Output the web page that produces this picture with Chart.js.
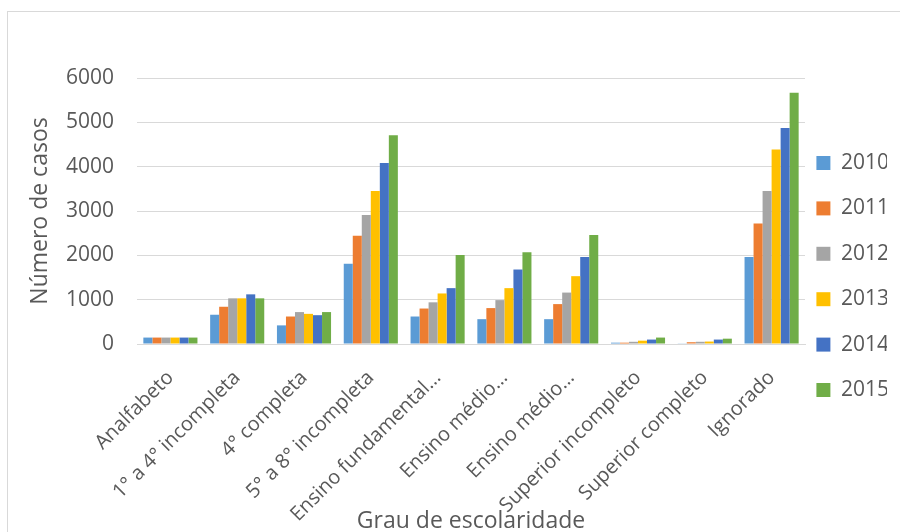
<!DOCTYPE html>
<html lang="pt">
<head>
<meta charset="utf-8">
<title>Casos por grau de escolaridade, 2010–2015</title>
<script src="https://cdn.jsdelivr.net/npm/chart.js@4/dist/chart.umd.min.js"></script>
<style>
  html, body { margin: 0; padding: 0; background: #ffffff; overflow: hidden; }
  #wrap { position: relative; width: 900px; height: 532px; }
  #frame {
    position: absolute; left: 7px; top: 11px; width: 1000px; height: 700px;
    border: 1px solid #d9d9d9; box-sizing: border-box;
  }
  #c { position: absolute; left: 0; top: 0; }
</style>
</head>
<body>
<div id="wrap">
  <div id="frame"></div>
  <canvas id="c" width="900" height="532"></canvas>
</div>
<script>
// Categorias (grau de escolaridade)
const categorias = [
  'Analfabeto',
  '1° a 4° incompleta',
  '4° completa',
  '5° a 8° incompleta',
  'Ensino fundamental…',
  'Ensino médio…',
  'Ensino médio…',
  'Superior incompleto',
  'Superior completo',
  'Ignorado'
];

// Número de casos por ano
const casos2010 = [145, 660, 420, 1810, 620, 560, 560, 30, 15, 1960];
const casos2011 = [145, 840, 620, 2440, 800, 810, 900, 30, 40, 2720];
const casos2012 = [145, 1030, 720, 2910, 940, 990, 1160, 50, 50, 3450];
const casos2013 = [145, 1030, 680, 3450, 1140, 1260, 1530, 75, 55, 4390];
const casos2014 = [145, 1120, 650, 4080, 1260, 1680, 1960, 100, 100, 4870];
const casos2015 = [145, 1030, 720, 4710, 2010, 2070, 2460, 145, 120, 5670];

const anos = ['2010', '2011', '2012', '2013', '2014', '2015'];
const series = [casos2010, casos2011, casos2012, casos2013, casos2014, casos2015];
const cores = ['#5b9bd5', '#ed7d31', '#a5a5a5', '#ffc000', '#4472c4', '#70ad47'];

// Valores do eixo vertical
const eixoMin = 0;
const eixoMax = 6000;
const eixoPasso = 1000;

const corTexto = '#595959';
const corGrade = '#d9d9d9';
const fonte = "'Open Sans', 'DejaVu Sans', sans-serif";

// Aproxima a legenda do gráfico depois do cálculo do layout
const ajusteLegenda = {
  id: 'ajusteLegenda',
  afterLayout(chart) {
    const lg = chart.legend;
    if (lg) { lg.left -= 13; lg.right -= 13; }
  }
};

new Chart(document.getElementById('c'), {
  type: 'bar',
  data: {
    labels: categorias,
    datasets: anos.map((ano, i) => ({
      label: ano,
      data: series[i],
      backgroundColor: cores[i],
      borderWidth: 0,
      categoryPercentage: 0.81,
      barPercentage: 1.0
    }))
  },
  plugins: [ajusteLegenda],
  options: {
    responsive: false,
    devicePixelRatio: 1,
    animation: false,
    layout: { padding: { top: 21, left: 7, right: 0, bottom: 0 } },
    plugins: {
      title: {
        display: true,
        text: ' ',
        font: { size: 10, lineHeight: 1 },
        padding: { top: 0, bottom: 47 }
      },
      legend: {
        position: 'right',
        maxWidth: 95,
        labels: {
          boxWidth: 14,
          boxHeight: 14,
          padding: 24.4,
          color: corTexto,
          font: { family: fonte, size: 21 }
        }
      },
      tooltip: { enabled: false }
    },
    scales: {
      x: {
        grid: { display: false, drawTicks: false },
        border: { display: true, color: corGrade, width: 1 },
        ticks: {
          color: corTexto,
          font: { family: fonte, size: 20 },
          minRotation: 45,
          maxRotation: 45,
          autoSkip: false,
          padding: 22
        },
        title: {
          display: true,
          text: 'Grau de escolaridade',
          color: corTexto,
          font: { family: fonte, size: 23, lineHeight: 0.9 },
          padding: { top: 0, bottom: 0 }
        },
        afterFit(scale) { scale.height = 188; }
      },
      y: {
        min: eixoMin,
        max: eixoMax,
        grid: { color: corGrade, lineWidth: 1, drawTicks: false },
        border: { display: false },
        ticks: {
          stepSize: eixoPasso,
          color: corTexto,
          font: { family: fonte, size: 21 },
          padding: 23,
          callback: (v) => String(v)
        },
        title: {
          display: true,
          text: 'Número de casos',
          color: corTexto,
          font: { family: fonte, size: 23 },
          padding: { top: 20, bottom: 0 }
        },
        afterFit(scale) { scale.width = 130; }
      }
    }
  }
});
</script>
</body>
</html>
